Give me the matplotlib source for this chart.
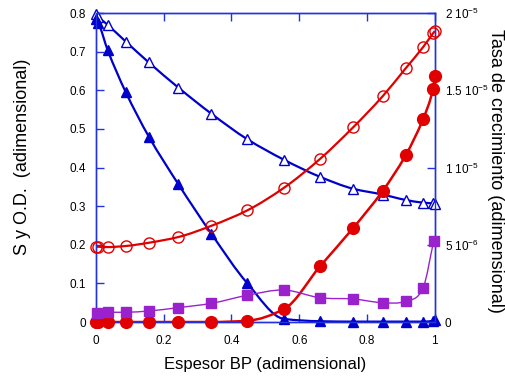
import numpy as np
import matplotlib.pyplot as plt
from matplotlib.path import Path
from matplotlib.patches import PathPatch

plt.rcParams['font.family'] = ['Liberation Sans', 'DejaVu Sans']
plt.rcParams['mathtext.fontset'] = 'custom'
plt.rcParams['mathtext.rm'] = 'Liberation Sans'

# espesor BP (shared x)
x = [0.0, 0.007, 0.035, 0.088, 0.156, 0.243, 0.341, 0.447, 0.555, 0.661, 0.759, 0.846, 0.914, 0.965, 0.995, 1.0]

# left axis: S y O.D.
od_open = [0.798, 0.79, 0.769, 0.726, 0.672, 0.607, 0.539, 0.473, 0.42, 0.376, 0.345, 0.330, 0.316, 0.309, 0.307, 0.306]
s_filled = [0.785, 0.775, 0.703, 0.595, 0.48, 0.357, 0.228, 0.10, 0.008, 0.002, 0.001, 0.001, 0.001, 0.001, 0.003, 0.005]

# right axis: tasa de crecimiento (x 1e-5)
tasa_open = [0.487, 0.487, 0.485, 0.492, 0.513, 0.55, 0.623, 0.723, 0.869, 1.055, 1.26, 1.461, 1.642, 1.778, 1.869, 1.883]
tasa_filled = [0, 0, 0, 0, 0, 0, 0, 0.008, 0.084, 0.36, 0.608, 0.848, 1.079, 1.312, 1.508, 1.59]
x_sq = [0.004, 0.035, 0.088, 0.156, 0.243, 0.341, 0.447, 0.555, 0.661, 0.759, 0.846, 0.914, 0.965, 0.997]
tasa_sq = [0.058, 0.063, 0.063, 0.071, 0.093, 0.121, 0.173, 0.207, 0.157, 0.149, 0.125, 0.134, 0.218, 0.526]

right_ticks = [0, 0.5e-5, 1e-5, 1.5e-5, 2e-5]
right_labels = ['0', r'5 10$^{-6}$', r'1 10$^{-5}$', r'1.5 10$^{-5}$', r'2 10$^{-5}$']

blue = '#0000cc'
red = '#e00000'
purple = '#9922cc'
axcol = '#2233dd'


def smooth(ax, xs, ys, color, lw, monotone=True):
    # cubic hermite drawn as bezier path through the data points
    xs = np.asarray(xs, float)
    ys = np.asarray(ys, float)
    n = len(xs)
    d = np.diff(ys) / np.diff(xs)
    m = np.zeros(n)
    m[0], m[-1] = d[0], d[-1]
    for i in range(1, n - 1):
        if monotone:
            if d[i - 1] * d[i] <= 0:
                m[i] = 0
            else:
                m[i] = 2 / (1 / d[i - 1] + 1 / d[i])
        else:
            m[i] = (ys[i + 1] - ys[i - 1]) / (xs[i + 1] - xs[i - 1])
    verts = [(xs[0], ys[0])]
    codes = [Path.MOVETO]
    for i in range(n - 1):
        h = xs[i + 1] - xs[i]
        verts += [(xs[i] + h / 3, ys[i] + m[i] * h / 3),
                  (xs[i + 1] - h / 3, ys[i + 1] - m[i + 1] * h / 3),
                  (xs[i + 1], ys[i + 1])]
        codes += [Path.CURVE4] * 3
    ax.add_patch(PathPatch(Path(verts, codes), fill=False, edgecolor=color, lw=lw, zorder=2))


fig = plt.figure(figsize=(5.05, 3.76), dpi=100)
ax = fig.add_axes([0.190, 0.1436, 0.671, 0.8218])
ax2 = ax.twinx()

smooth(ax, x, od_open, blue, 1.6)
smooth(ax, x, s_filled, blue, 1.6)
ax.plot(x, od_open, ls='none', marker='^', ms=7, mfc='white', mec=blue, mew=1.0, clip_on=False, zorder=3)
ax.plot(x, s_filled, ls='none', marker='^', ms=7, mfc=blue, mec=blue, clip_on=False, zorder=3)

t_open = np.array(tasa_open) * 1e-5
t_fill = np.array(tasa_filled) * 1e-5
t_sq = np.array(tasa_sq) * 1e-5
smooth(ax2, x, t_open, red, 1.6)
smooth(ax2, x, t_fill, red, 1.8)
smooth(ax2, x_sq, t_sq, purple, 1.0, monotone=False)
ax2.plot(x, t_open, ls='none', marker='o', ms=8, mfc='none', mec=red, mew=1.0, clip_on=False, zorder=3)
ax2.plot(x, t_fill, ls='none', marker='o', ms=8.5, mfc=red, mec=red, clip_on=False, zorder=3)
ax2.plot(x_sq, t_sq, ls='none', marker='s', ms=7.5, mfc=purple, mec=purple, clip_on=False, zorder=3)

ax.set_xlim(0, 1)
ax.set_ylim(0, 0.8)
ax2.set_ylim(0, 2e-5)
ax.set_xticks([0, 0.2, 0.4, 0.6, 0.8, 1])
ax.set_xticklabels(['0', '0.2', '0.4', '0.6', '0.8', '1'])
ax.set_yticks(np.arange(0, 0.81, 0.1))
ax.set_yticklabels(['0', '0.1', '0.2', '0.3', '0.4', '0.5', '0.6', '0.7', '0.8'])
ax2.set_yticks(right_ticks)
ax2.set_yticklabels(right_labels)

for a in (ax, ax2):
    for s in a.spines.values():
        s.set_color(axcol)
        s.set_linewidth(1.0)
ax.tick_params(axis='both', direction='in', color=axcol, length=6, width=1, labelsize=8.5, top=True)
ax.tick_params(axis='x', pad=9)
ax.tick_params(axis='y', pad=7)
ax2.tick_params(axis='y', direction='in', color=axcol, length=6, width=1, labelsize=8.5, pad=7)

ax.set_xlabel('Espesor BP (adimensional)', fontsize=12, va='center')
ax.xaxis.set_label_coords(0.5, -0.139)
ax.set_ylabel('S y O.D.  (adimensional)', fontsize=13, va='center')
ax.yaxis.set_label_coords(-0.218, 0.534)
ax2.set_ylabel('Tasa de crecimiento (adimensional)', fontsize=13, rotation=-90, va='center')
ax2.yaxis.set_label_coords(1.178, 0.49)

fig.savefig('out.png', dpi=100)
